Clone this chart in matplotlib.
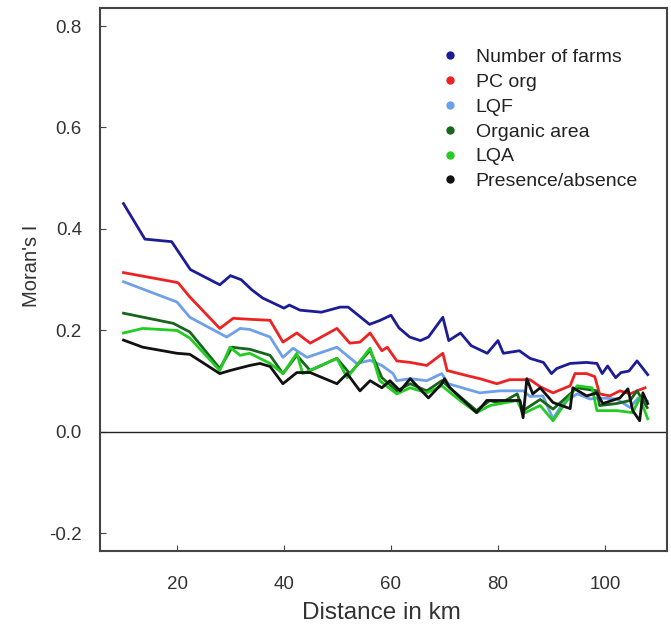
import matplotlib
matplotlib.use("Agg")
import matplotlib.pyplot as plt
from matplotlib.lines import Line2D

plt.rcParams["font.family"] = ["Liberation Sans", "DejaVu Sans"]

# Data (distance in km, Moran's I)
farms_km = [10, 14, 19, 22.5, 28, 30, 32, 34, 36, 40, 41, 43, 47, 50.5, 52, 56, 58, 60, 61.5,
            63.5, 65.5, 67, 69.7, 70.8, 73, 75, 78, 80, 81, 84, 86, 88.5, 90, 91, 93.5, 96.5,
            98.5, 99.5, 100.5, 102, 103, 104.5, 106, 108]
farms = [0.45, 0.38, 0.375, 0.32, 0.29, 0.308, 0.30, 0.28, 0.264, 0.244, 0.25, 0.24, 0.236,
         0.246, 0.246, 0.212, 0.22, 0.23, 0.205, 0.187, 0.18, 0.187, 0.226, 0.18, 0.195, 0.17,
         0.155, 0.18, 0.155, 0.16, 0.145, 0.137, 0.115, 0.125, 0.135, 0.137, 0.135, 0.115,
         0.13, 0.107, 0.117, 0.12, 0.14, 0.113]

pcorg_km = [10, 19.3, 20.2, 22.4, 28, 30.5, 33.6, 37.4, 39.8, 42.4, 44.9, 49.9, 52.3, 54.2,
            56.1, 58.3, 59.3, 61.1, 63.6, 66.7, 69.7, 70.5, 74.2, 76.6, 79.8, 82.2, 86, 87.9,
            90.3, 93.5, 94.4, 96.6, 98.1, 99, 100.9, 102.8, 104.7, 106, 107.5]
pcorg = [0.314, 0.296, 0.294, 0.266, 0.204, 0.224, 0.222, 0.22, 0.177, 0.195, 0.175, 0.204,
         0.175, 0.177, 0.195, 0.16, 0.167, 0.14, 0.137, 0.131, 0.155, 0.121, 0.111, 0.105,
         0.095, 0.103, 0.103, 0.089, 0.077, 0.091, 0.115, 0.115, 0.109, 0.075, 0.071, 0.081,
         0.075, 0.081, 0.087]

lqf_km = [10, 20, 22.4, 29.3, 31.8, 33.6, 37.4, 39.8, 41.7, 44.3, 49.9, 53.6, 56.1, 58.3,
          60.4, 61.1, 63.6, 66.7, 69.5, 70.7, 76.6, 80.4, 84.7, 86, 88.4, 90.3, 92.1, 94.8,
          97.2, 99, 102.2, 104.7, 106.2, 107.9]
lqf = [0.296, 0.256, 0.226, 0.187, 0.204, 0.202, 0.187, 0.147, 0.165, 0.147, 0.167, 0.135,
       0.141, 0.131, 0.115, 0.101, 0.105, 0.101, 0.115, 0.095, 0.077, 0.081, 0.081, 0.07,
       0.071, 0.026, 0.056, 0.075, 0.065, 0.067, 0.065, 0.048, 0.067, 0.061]

org_km = [10, 19.3, 22.4, 28, 30.3, 31.8, 33.6, 37.4, 39.8, 42.4, 44.9, 49.9, 52.3, 56.1,
          58.3, 61.1, 63.6, 66.7, 69.5, 72.3, 76, 78.5, 80.4, 83.6, 84.7, 87.9, 90.3, 94.8,
          98.5, 99, 102.2, 104.7, 106, 107.9]
org = [0.234, 0.214, 0.197, 0.125, 0.167, 0.165, 0.163, 0.151, 0.115, 0.151, 0.121, 0.145,
       0.115, 0.161, 0.107, 0.081, 0.095, 0.081, 0.101, 0.075, 0.042, 0.062, 0.056, 0.075,
       0.042, 0.064, 0.045, 0.087, 0.081, 0.052, 0.056, 0.062, 0.081, 0.048]

lqa_km = [10, 13.6, 20, 22.4, 28, 29.9, 31.8, 33.6, 37.4, 39.8, 42.4, 43.5, 49.9, 51.8,
          56.1, 57.9, 61.1, 63.6, 66.7, 69.5, 72.3, 76, 78.5, 83.6, 84.7, 87.9, 90.3, 94.8,
          97.6, 98.5, 102.2, 105.2, 106.5, 108]
lqa = [0.195, 0.204, 0.2, 0.185, 0.121, 0.167, 0.151, 0.155, 0.135, 0.115, 0.155, 0.115,
       0.145, 0.107, 0.165, 0.101, 0.075, 0.087, 0.077, 0.091, 0.067, 0.038, 0.052, 0.062,
       0.036, 0.052, 0.022, 0.091, 0.087, 0.042, 0.042, 0.038, 0.067, 0.026]

pres_km = [10, 13.6, 20, 22.4, 28, 29.9, 33.6, 35.5, 37.4, 39.8, 42.4, 44.9, 49.9, 51.8,
           54.2, 56.1, 58.3, 59.8, 61.7, 63.6, 67, 69.5, 70, 71, 76, 77.9, 81, 84.1, 84.7,
           85.4, 86.5, 87.9, 90.3, 93.5, 94, 96.6, 98.5, 99.6, 102.8, 104.3, 105.2, 106.5,
           107.1, 108]
pres = [0.181, 0.167, 0.155, 0.153, 0.115, 0.121, 0.131, 0.135, 0.129, 0.095, 0.117, 0.117,
        0.095, 0.115, 0.081, 0.101, 0.087, 0.101, 0.081, 0.105, 0.067, 0.095, 0.105, 0.087,
        0.038, 0.062, 0.062, 0.062, 0.028, 0.105, 0.075, 0.087, 0.058, 0.046, 0.087, 0.071,
        0.077, 0.056, 0.067, 0.085, 0.042, 0.022, 0.077, 0.056]

labels = ["Number of farms", "PC org", "LQF", "Organic area", "LQA", "Presence/absence"]
colors = ["#1c1c96", "#ee2222", "#6ea0ea", "#17661c", "#22cc22", "#111111"]

fig = plt.figure(figsize=(6.71, 6.35), dpi=100)
ax = fig.add_axes([0.149, 0.132, 0.845, 0.855])

series = [(farms_km, farms), (pcorg_km, pcorg), (lqf_km, lqf),
          (org_km, org), (lqa_km, lqa), (pres_km, pres)]
for (x, y), c in zip(series, colors):
    ax.plot(x, y, color=c, lw=2)

ax.axhline(0, color="#222222", lw=1)

ax.set_xlim(5.6, 111.6)
ax.set_ylim(-0.235, 0.835)
ax.set_xticks([20, 40, 60, 80, 100])
ax.set_yticks([-0.2, 0.0, 0.2, 0.4, 0.6, 0.8])
ax.set_yticklabels(["-0.2", "0.0", "0.2", "0.4", "0.6", "0.8"])
ax.tick_params(direction="in", length=4, color="#444444", labelcolor="#333333",
               labelsize=13.5)
ax.tick_params(axis="x", pad=18)
ax.tick_params(axis="y", pad=13)
for s in ax.spines.values():
    s.set_color("#444444")
    s.set_linewidth(1.5)

ax.set_xlabel("Distance in km", fontsize=17.5, color="#333333", va="center")
ax.xaxis.set_label_coords(0.497, -0.113)
ax.set_ylabel("Moran's I", fontsize=14.5, color="#333333", va="center")
ax.yaxis.set_label_coords(-0.121, 0.525)

handles = [Line2D([], [], ls="none", marker="o", ms=5, color=c) for c in colors]
ax.legend(handles, labels, loc="upper left", bbox_to_anchor=(0.57, 0.958), frameon=False,
          fontsize=14, handlelength=1.0, handletextpad=0.8, labelspacing=0.37,
          labelcolor="#222222")

fig.savefig("out.png", dpi=100)
